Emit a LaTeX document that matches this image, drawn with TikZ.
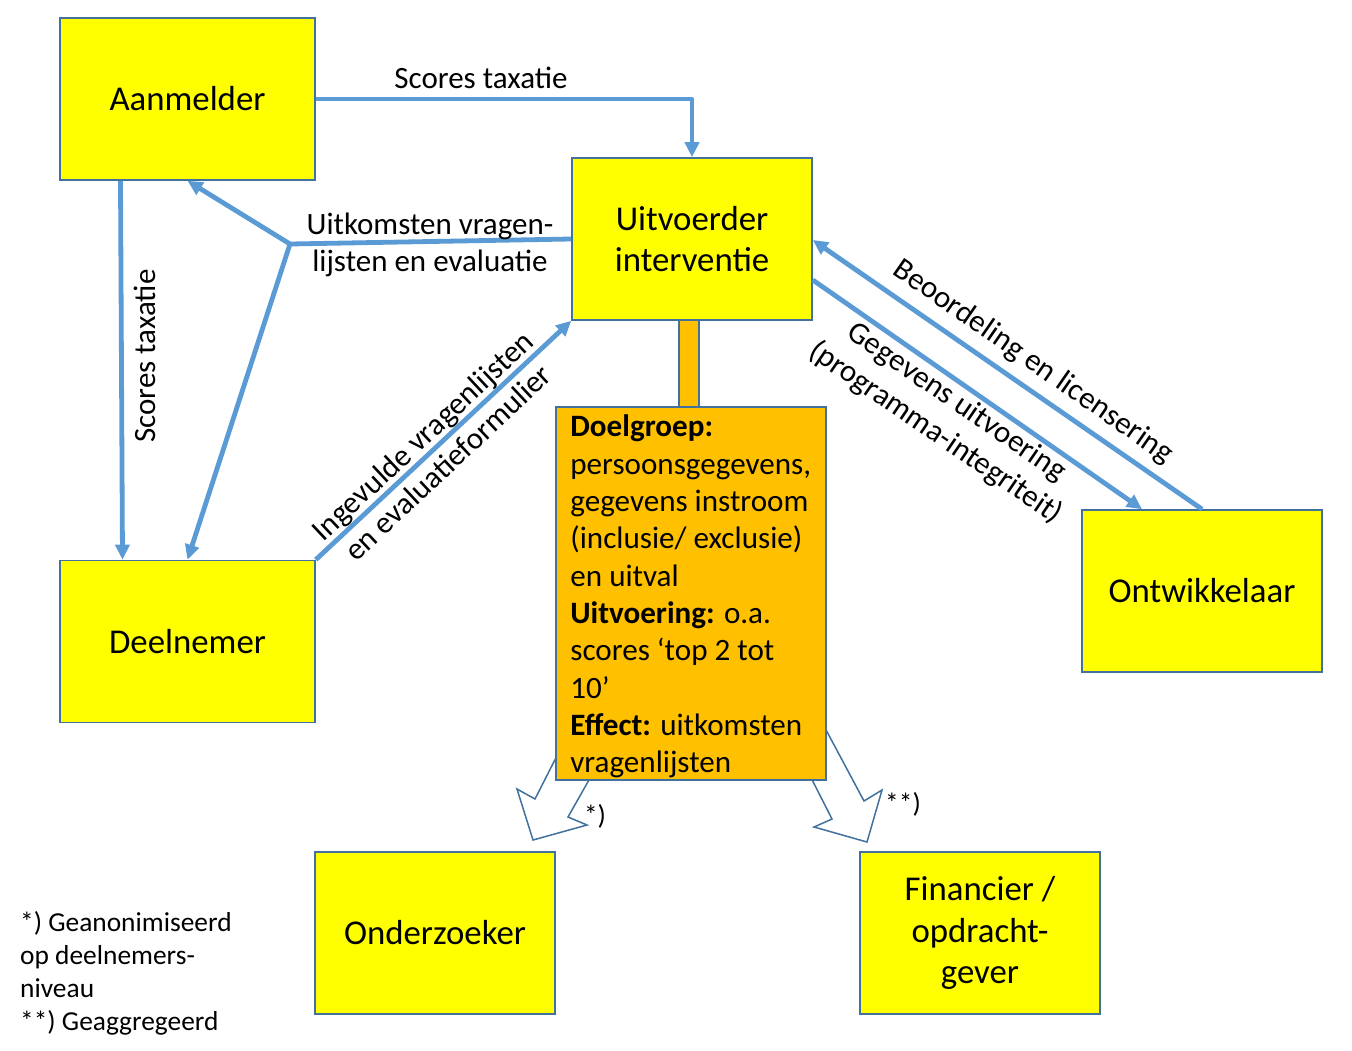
\documentclass[tikz,border=0pt]{standalone}
\usepackage{fontspec}
\setmainfont{Carlito}
\usetikzlibrary{arrows.meta,calc}
\definecolor{boxyellow}{HTML}{FFFF00}
\definecolor{boxorange}{HTML}{FFC000}
\definecolor{edgeblue}{HTML}{41719C}
\definecolor{linkblue}{HTML}{5B9BD5}
\begin{document}
\begin{tikzpicture}[x=1pt,y=-1pt,
  box/.style={draw=edgeblue, line width=1.6pt, fill=boxyellow, minimum height=162pt, inner sep=0pt, align=center, font=\fontsize{34.8}{41.8}\selectfont},
  wbox/.style={box, minimum width=255pt},
  nbox/.style={box, minimum width=240pt},
  conn/.style={draw=linkblue, line width=4.8pt, line join=round, -{Triangle[length=15pt,width=14pt]}},
  lab/.style={inner sep=0pt, font=\fontsize{31}{37}\selectfont},
  hollow/.style={draw=edgeblue, line width=1.5pt, fill=white, line join=miter},
  note/.style={inner sep=0pt, font=\fontsize{27.4}{33}\selectfont}
]
\useasboundingbox (0,0) rectangle (1352,1050);
\fill[white] (0,0) rectangle (1352,1050);

% hollow block arrows (behind the orange box)
\draw[hollow] (565,740) -- (535,799) -- (517,789) -- (533,840) -- (587,825) -- (568,817) -- (598,764) -- cycle;
\draw[hollow] (817,713) -- (864,801) -- (882,790) -- (867,842) -- (814,827) -- (832,819) -- (802,760) -- cycle;

% orange connecting bar
\node[draw=edgeblue, line width=1.6pt, fill=boxorange, minimum width=20pt, minimum height=87pt, inner sep=0pt] (bar) at (689,363.5) {};

% orange data box
\node[draw=edgeblue, line width=1.6pt, fill=boxorange, minimum width=270pt, minimum height=373pt, inner sep=0pt] (data) at (691,593.5) {};
\node[anchor=west, inner sep=0pt, align=left, font=\fontsize{31.1}{37.3}\selectfont] (datatext) at ([xshift=15pt,yshift=-3pt]data.west)
 {\textbf{Doelgroep:}\\persoonsgegevens,\\gegevens instroom\\(inclusie/ exclusie)\\en uitval\\\textbf{Uitvoering:} o.a.\\scores ‘top 2 tot\\10’\\\textbf{Effect:} uitkomsten\\vragenlijsten};

% main boxes
\node[wbox] (aan) at (187.5,99) {Aanmelder};
\node[wbox] (dee) at (187.5,641.5) {Deelnemer};
\node[nbox] (uit) at (692,239) {Uitvoerder\\interventie};
\node[nbox] (ont) at (1202,591) {Ontwikkelaar};
\node[nbox] (ond) at (435,933) {Onderzoeker};
\node[nbox] (fin) at (980,933) {Financier /\\opdracht-\\gever};

% connectors
\draw[conn] (aan.east) -| (uit.north);
\draw[conn] ([xshift=-67pt]aan.south) -- ([xshift=-65pt]dee.north);
\coordinate (j) at (290,244);
\draw[conn] (uit.west) -- (j) -- (aan.south);
\draw[conn] (j) -- (dee.north);
\draw[conn] (dee.north east) -- (uit.south west);
\draw[conn] ([yshift=-41pt]uit.east) -- ([xshift=-60pt]ont.north);
\draw[conn] (ont.north) -- ([yshift=-1pt]uit.east);

% connector labels
\node[lab] (l1) at (481,78) {Scores taxatie};
\node[lab, rotate=90] (l2) at (145,356) {Scores taxatie};
\node[lab, align=center] (l3) at (430,245) {Uitkomsten vragen-\\lijsten en evaluatie};
\node[lab, align=center, rotate=43.1] (l4) at (435,449) {Ingevulde vragenlijsten\\en evaluatieformulier};
\node[lab, rotate=-34.8] (l5) at (1033,362) {Beoordeling en licensering};
\node[lab, align=center, rotate=-34.3] (l6) at (946,418) {Gegevens uitvoering\\(programma-integriteit)};

% marks and footnote
\node[note] (s1) at (595,816) {*)};
\node[note] (s2) at (903,804) {**)};
\node[note, align=left, anchor=west] (fn) at (20,973.5) {*) Geanonimiseerd\\op deelnemers-\\niveau\\**) Geaggregeerd};
\end{tikzpicture}
\end{document}
